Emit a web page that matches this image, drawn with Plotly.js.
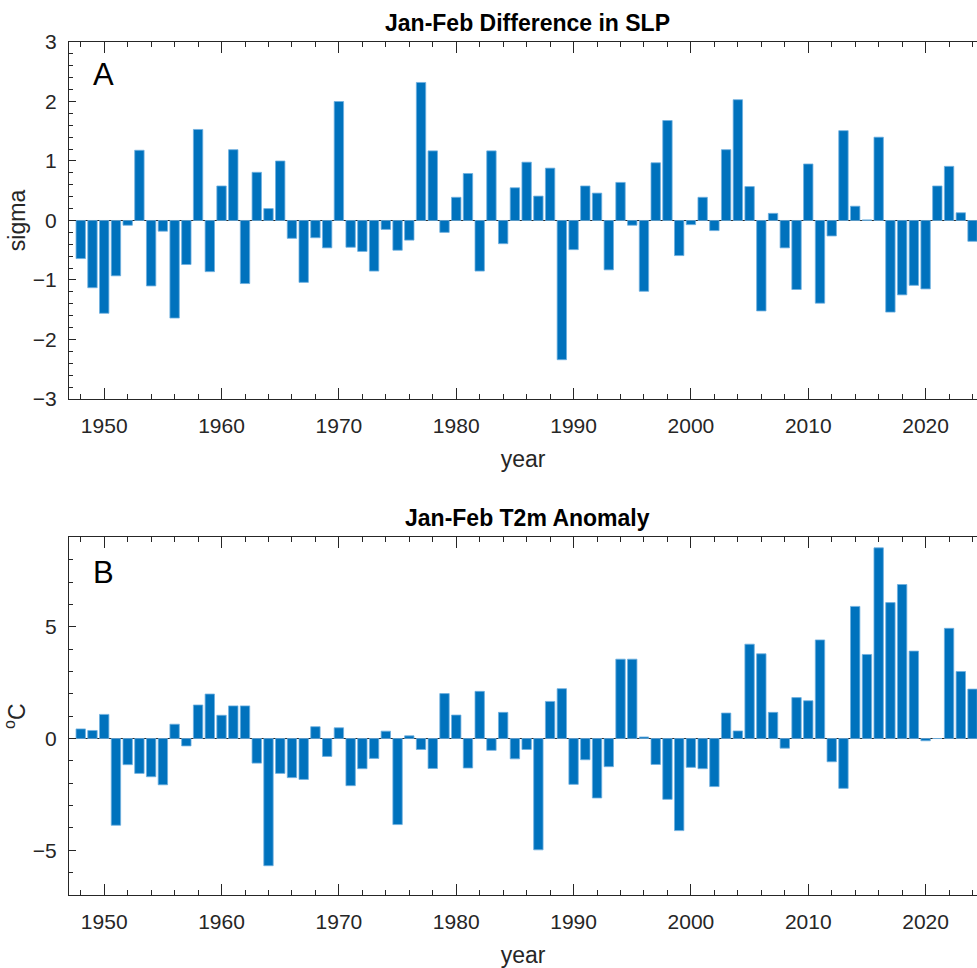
<!DOCTYPE html>
<html>
<head>
<meta charset="utf-8">
<script src="https://cdn.plot.ly/plotly-3.0.1.min.js"></script>
<style>html,body{margin:0;padding:0;background:#fff;}#chart{width:977px;height:968px;}</style>
</head>
<body>
<div id="chart"></div>
<script>
const years = [1948,1949,1950,1951,1952,1953,1954,1955,1956,1957,1958,1959,1960,1961,1962,1963,1964,1965,1966,1967,1968,1969,1970,1971,1972,1973,1974,1975,1976,1977,1978,1979,1980,1981,1982,1983,1984,1985,1986,1987,1988,1989,1990,1991,1992,1993,1994,1995,1996,1997,1998,1999,2000,2001,2002,2003,2004,2005,2006,2007,2008,2009,2010,2011,2012,2013,2014,2015,2016,2017,2018,2019,2020,2021,2022,2023,2024];

const slpSigma = [-0.64,-1.13,-1.56,-0.93,-0.08,1.18,-1.10,-0.18,-1.64,-0.74,1.53,-0.86,0.58,1.19,-1.06,0.81,0.20,1.00,-0.30,-1.04,-0.29,-0.46,2.00,
-0.45,-0.52,-0.85,-0.15,-0.50,-0.33,2.32,1.17,-0.20,0.39,0.79,-0.85,1.17,-0.39,0.55,0.98,0.41,0.88,-2.34,-0.49,0.58,0.46,-0.83,0.64,-0.08,-1.19,0.97,
1.68,-0.59,-0.07,0.39,-0.17,1.19,2.03,0.57,-1.52,0.12,-0.46,-1.16,0.95,-1.39,-0.26,1.51,0.24,0.01,1.40,-1.54,-1.25,-1.09,-1.15,0.58,0.91,0.13,-0.35];

const t2mAnomaly = [0.43,0.36,1.08,-3.88,-1.17,-1.56,-1.71,-2.07,0.64,-0.33,1.50,1.99,1.04,1.46,1.46,-1.10,-5.69,-1.56,-1.75,-1.83,0.53,-0.80,0.48,
-2.11,-1.35,-0.89,0.33,-3.85,0.12,-0.49,-1.34,2.01,1.05,-1.32,2.11,-0.53,1.17,-0.91,-0.49,-4.98,1.66,2.23,-2.05,-0.95,-2.66,-1.26,3.55,3.55,0.07,-1.16,
-2.72,-4.12,-1.29,-1.35,-2.15,1.14,0.34,4.22,3.79,1.17,-0.43,1.83,1.69,4.41,-1.04,-2.23,5.91,3.76,8.53,6.08,6.89,3.91,-0.10,0.00,4.93,3.00,2.21];

const xTickVals = [1950,1960,1970,1980,1990,2000,2010,2020];
const yTickValsTop = [-3,-2,-1,0,1,2,3];
const yTickValsBottom = [-5,0,5];

const barColor = '#0072BD';
const axisColor = '#262626';
const fontFamily = 'Liberation Sans, Arial, Helvetica, sans-serif';

const barTrace = (y, xa, ya) => ({
  type: 'bar', x: years, y: y, xaxis: xa, yaxis: ya,
  marker: {color: barColor, line: {color: '#6fb0e0', width: 0.8}},
  hoverinfo: 'x+y'
});

const xAxisBase = (anchor) => ({
  anchor: anchor,
  domain: [0, 1],
  range: [1947, 2024.38],
  tickmode: 'array', tickvals: xTickVals,
  ticks: 'inside', ticklen: 11, tickwidth: 1, tickcolor: axisColor,
  showline: true, linecolor: axisColor, linewidth: 1, mirror: 'ticks',
  showgrid: false, zeroline: false,
  tickfont: {family: fontFamily, size: 21, color: axisColor},
  ticklabelstandoff: 8,
  minor: {tick0: 1948, dtick: 2, ticks: 'inside', ticklen: 5, tickwidth: 1, tickcolor: axisColor, showgrid: false},
  title: {text: 'year', font: {family: fontFamily, size: 23, color: axisColor}, standoff: 14}
});

const data = [barTrace(slpSigma, 'x', 'y'), barTrace(t2mAnomaly, 'x2', 'y2')];

const layout = {
  width: 977, height: 968,
  margin: {l: 69, r: 0, t: 42, b: 73},
  paper_bgcolor: '#fff', plot_bgcolor: '#fff',
  showlegend: false,
  bargap: 0.2,
  font: {family: fontFamily, color: axisColor},
  xaxis: xAxisBase('y'),
  xaxis2: xAxisBase('y2'),
  yaxis: {
    anchor: 'x', domain: [0.5815, 1], range: [-3, 3],
    tickmode: 'array', tickvals: yTickValsTop,
    ticks: 'inside', ticklen: 7, tickwidth: 1, tickcolor: axisColor,
    showline: true, linecolor: axisColor, linewidth: 1, mirror: false,
    showgrid: false, zeroline: true, zerolinecolor: axisColor, zerolinewidth: 1,
    tickfont: {family: fontFamily, size: 21, color: axisColor},
    ticklabelstandoff: 7,
    minor: {dtick: 0.2, ticks: 'inside', ticklen: 4, tickwidth: 1, tickcolor: axisColor, showgrid: false},
    title: {text: 'sigma', font: {family: fontFamily, size: 23, color: axisColor}, standoff: 0}
  },
  yaxis2: {
    anchor: 'x2', domain: [0, 0.4193], range: [-7, 9],
    tickmode: 'array', tickvals: yTickValsBottom,
    ticks: 'inside', ticklen: 7, tickwidth: 1, tickcolor: axisColor,
    showline: true, linecolor: axisColor, linewidth: 1, mirror: false,
    showgrid: false, zeroline: true, zerolinecolor: axisColor, zerolinewidth: 1,
    tickfont: {family: fontFamily, size: 21, color: axisColor},
    ticklabelstandoff: 7,
    minor: {dtick: 1, ticks: 'inside', ticklen: 4, tickwidth: 1, tickcolor: axisColor, showgrid: false},
    title: {text: '<sup>o</sup>C', font: {family: fontFamily, size: 23, color: axisColor}, standoff: 8}
  },
  annotations: [
    {text: '<b>Jan-Feb Difference in SLP</b>', xref: 'paper', yref: 'paper', x: 0.505, y: 1.0217, xanchor: 'center', yanchor: 'middle', showarrow: false, font: {family: fontFamily, size: 23, color: '#000'}},
    {text: '<b>Jan-Feb T2m Anomaly</b>', xref: 'paper', yref: 'paper', x: 0.505, y: 0.4414, xanchor: 'center', yanchor: 'middle', showarrow: false, font: {family: fontFamily, size: 23, color: '#000'}},
    {text: 'A', xref: 'x', yref: 'y', x: 1948.9, y: 2.46, xanchor: 'left', yanchor: 'middle', showarrow: false, font: {family: fontFamily, size: 31, color: '#000'}},
    {text: 'B', xref: 'x2', yref: 'y2', x: 1948.9, y: 7.44, xanchor: 'left', yanchor: 'middle', showarrow: false, font: {family: fontFamily, size: 31, color: '#000'}}
  ]
};

Plotly.newPlot('chart', data, layout, {displayModeBar: false, staticPlot: true});
</script>
</body>
</html>
